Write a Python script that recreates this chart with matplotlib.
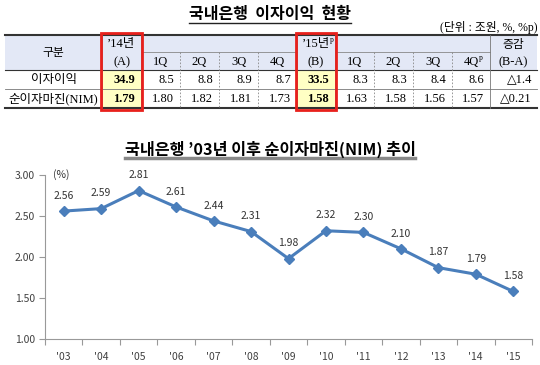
import numpy as np
import matplotlib
matplotlib.use("Agg")
import matplotlib.pyplot as plt
import matplotlib.patches as patches

KR = ['Noto Sans CJK KR', 'DejaVu Sans']
SERIF = ['Liberation Serif', 'Noto Sans CJK KR']

# 표 데이터 (단위 : 조원, %, %p)
quarters = ['1Q', '2Q', '3Q', '4Q']
row_names = ['이자이익', '순이자마진(NIM)']
row_decimals = [1, 2]
total_14 = [34.9, 1.79]
quarter_14 = [[8.5, 8.8, 8.9, 8.7], [1.80, 1.82, 1.81, 1.73]]
total_15 = [33.5, 1.58]
quarter_15 = [[8.3, 8.3, 8.4, 8.6], [1.63, 1.58, 1.56, 1.57]]
change = [-1.4, -0.21]

# 차트 데이터
years = ["'03", "'04", "'05", "'06", "'07", "'08", "'09",
         "'10", "'11", "'12", "'13", "'14", "'15"]
nim = [2.56, 2.59, 2.81, 2.61, 2.44, 2.31, 1.98, 2.32, 2.30, 2.10, 1.87, 1.79, 1.58]

W, H = 540, 365
fig = plt.figure(figsize=(W / 100, H / 100), dpi=100)
ax0 = fig.add_axes([0, 0, 1, 1])
ax0.set_xlim(0, W)
ax0.set_ylim(H, 0)
ax0.axis('off')

# 표 레이아웃 (픽셀)
cols = [5, 102, 141, 180, 219, 258, 297, 335, 374, 413, 452, 490, 537]
rows = [35, 52, 70, 89, 108]
line_c = '#333333'

ax0.add_patch(patches.Rectangle((cols[0], rows[0]), cols[-1] - cols[0], rows[2] - rows[0],
                                fc='#e3e8f6', ec='none'))
for c in (1, 6):
    ax0.add_patch(patches.Rectangle((cols[c], rows[2]), cols[c + 1] - cols[c], rows[4] - rows[2],
                                    fc='#ffffc4', ec='none'))

ax0.plot([cols[0], cols[-1]], [rows[0]] * 2, color=line_c, lw=1.5)
ax0.plot([cols[0], cols[-1]], [rows[4]] * 2, color=line_c, lw=1.5)
ax0.plot([cols[0], cols[-1]], [rows[2]] * 2, color=line_c, lw=0.8)
ax0.plot([cols[0], cols[-1]], [rows[3]] * 2, color='#777777', lw=0.6)
ax0.plot([cols[2], cols[6]], [rows[1]] * 2, color='#888888', lw=0.6)
ax0.plot([cols[7], cols[11]], [rows[1]] * 2, color='#888888', lw=0.6)
for c in (1, 2, 6, 7, 11):
    ax0.plot([cols[c]] * 2, [rows[0], rows[4]], color='#777777', lw=0.6)
for c in (3, 4, 5, 8, 9, 10):
    ax0.plot([cols[c]] * 2, [rows[1], rows[4]], color='#888888', lw=0.6, ls=(0, (2, 2)))

for c in (1, 6):
    ax0.add_patch(patches.Rectangle((cols[c] - 1, rows[0] - 2), cols[c + 1] - cols[c] + 2,
                                    rows[4] - rows[0] + 4, fill=False, ec='#e8201c', lw=2, zorder=5))


def mid(c):
    return (cols[c] + cols[c + 1]) / 2


hy_top = (rows[0] + rows[1]) / 2 + 1
hy_bot = (rows[1] + rows[2]) / 2 + 1
fs = 9
ax0.text(mid(0), (rows[0] + rows[2]) / 2, '구분', family=KR, size=8.5, ha='center', va='center')
t14 = ax0.text(mid(1), hy_top, '’14년', family=SERIF, size=fs, ha='center', va='center')
t15 = ax0.text(mid(6), hy_top, '’15년', family=SERIF, size=fs, ha='center', va='center')
ax0.text(mid(11), hy_top, '증감', family=KR, size=8.5, ha='center', va='center')
ax0.text(mid(1), hy_bot, '(A)', family=SERIF, size=fs, ha='center', va='center')
ax0.text(mid(6), hy_bot, '(B)', family=SERIF, size=fs, ha='center', va='center')
ax0.text(mid(11), hy_bot, '(B-A)', family=SERIF, size=fs, ha='center', va='center')
q_texts = []
for i, q in enumerate(quarters):
    ax0.text(mid(2 + i), hy_bot, q, family=SERIF, size=fs, ha='center', va='center')
    q_texts.append(ax0.text(mid(7 + i), hy_bot, q, family=SERIF, size=fs, ha='center', va='center'))

pad = 6
for r in range(2):
    y = (rows[2 + r] + rows[3 + r]) / 2 + 0.5
    fmt = '%.' + str(row_decimals[r]) + 'f'
    ax0.text(mid(0), y, row_names[r], family=SERIF, size=fs, ha='center', va='center')
    ax0.text(cols[2] - pad, y, fmt % total_14[r], family=SERIF, size=fs, weight='bold',
             ha='right', va='center')
    ax0.text(cols[7] - pad, y, fmt % total_15[r], family=SERIF, size=fs, weight='bold',
             ha='right', va='center')
    for i in range(4):
        ax0.text(cols[3 + i] - pad, y, fmt % quarter_14[r][i], family=SERIF, size=fs,
                 ha='right', va='center')
        ax0.text(cols[8 + i] - pad, y, fmt % quarter_15[r][i], family=SERIF, size=fs,
                 ha='right', va='center')
    ax0.text(cols[12] - 5, y, '△' + fmt % abs(change[r]), family=['Liberation Serif', 'DejaVu Sans'],
             size=fs, ha='right', va='center')

title1 = ax0.text(270, 14, '국내은행  이자이익  현황', family=KR, size=11.5, weight='bold',
                  ha='center', va='center')
ax0.text(537, 27, '(단위 : 조원, %, %p)', family=SERIF, size=8.5, ha='right', va='center')
title2 = ax0.text(270, 149, '국내은행 ’03년 이후 순이자마진(NIM) 추이', family=['Noto Sans CJK KR'],
                  size=11.7, weight='bold', ha='center', va='center')

# 라인 차트
ax = fig.add_axes([45 / W, 1 - 339 / H, (532 - 45) / W, (339 - 175) / H])
ax.patch.set_alpha(0)
x = np.arange(len(years))
ax.plot(x, nim, color='#4a7ebb', lw=2.2, marker='D', ms=5, zorder=3)
for xi, v in zip(x, nim):
    ax.annotate('%.2f' % v, (xi, v), xytext=(0, 11), textcoords='offset points',
                ha='center', va='center', size=7.5, color='#333333', family=KR)
ax.set_xlim(-0.5, len(years) - 0.5)
ax.set_ylim(1.0, 3.0)
ax.set_yticks(np.arange(1.0, 3.01, 0.5))
ax.set_yticklabels(['%.2f' % v for v in np.arange(1.0, 3.01, 0.5)], family=KR, size=7.5,
                   color='#404040')
ax.set_xticks(np.arange(-0.5, len(years), 1))
ax.set_xticklabels([])
ax.set_xticks(x, minor=True)
ax.set_xticklabels(years, minor=True, family=KR, size=7.5, color='#404040')
ax.tick_params(axis='x', which='major', length=4, color='#999999')
ax.tick_params(axis='x', which='minor', length=0, pad=9)
ax.tick_params(axis='y', length=4, color='#999999', pad=3)
for s in ('top', 'right'):
    ax.spines[s].set_visible(False)
for s in ('left', 'bottom'):
    ax.spines[s].set_color('#999999')
ax.text(0.017, 1.0, '(%)', transform=ax.transAxes, family=KR, size=7.5, color='#333333',
        ha='left', va='center')

# 밑줄과 위첨자
fig.canvas.draw()
inv = ax0.transData.inverted()


def span(t):
    bb = t.get_window_extent()
    (x0, y0), (x1, y1) = inv.transform([[bb.x0, bb.y0], [bb.x1, bb.y1]])
    return x0, x1, min(y0, y1)


a, b, _ = span(title1)
ax0.plot([a, b], [23, 23], color='#222222', lw=1)
a, b, _ = span(title2)
ax0.plot([a, b], [158, 158], color='#888888', lw=2.5)
for t in (t15, q_texts[3]):
    a, b, top = span(t)
    ax0.text(b, top + 3.5, 'p', family=SERIF, size=5.5, ha='left', va='baseline')

fig.savefig('out.png', dpi=100)
